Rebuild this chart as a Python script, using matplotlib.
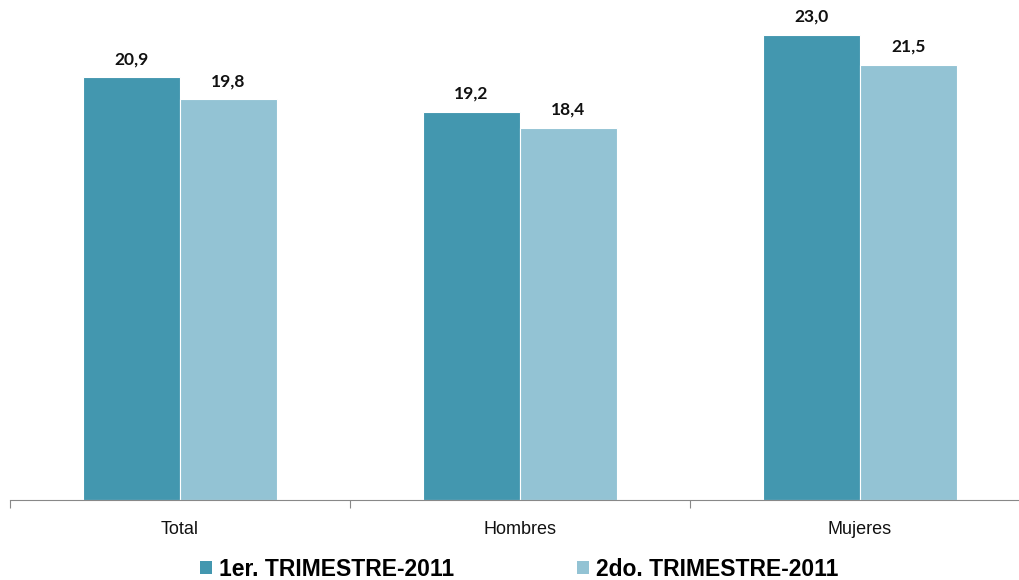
import matplotlib.pyplot as plt
import numpy as np
from matplotlib.patches import Patch

categories = ["Total", "Hombres", "Mujeres"]
series_names = ["1er. TRIMESTRE-2011", "2do. TRIMESTRE-2011"]
q1 = [20.9, 19.2, 23.0]
q2 = [19.8, 18.4, 21.5]
colors = ["#4397AF", "#93C3D4"]

fig = plt.figure(figsize=(10.2, 5.8), dpi=100)
W, H = 1020, 580
ax = fig.add_axes([10 / W, 80 / H, 1020 / W, 500 / H])
x = np.arange(len(categories))
bw = 0.285
b1 = ax.bar(x - bw / 2, q1, bw, color=colors[0], edgecolor="white", linewidth=0.8)
b2 = ax.bar(x + bw / 2, q2, bw, color=colors[1], edgecolor="white", linewidth=0.8)
for bars, vals in ((b1, q1), (b2, q2)):
    for r, v in zip(bars, vals):
        ax.text(r.get_x() + r.get_width() / 2, v + 0.5, f"{v:.1f}".replace(".", ","),
                ha="center", va="bottom", fontsize=12.5, fontweight="bold",
                family="Lato", color="#111111")

ax.set_xlim(-0.5, 2.5)
ax.set_ylim(0, 500 / 20.23)
for s in ("top", "right", "left"):
    ax.spines[s].set_visible(False)
ax.spines["bottom"].set_color("#888888")
ax.set_yticks([])
ax.set_xticks([-0.5, 0.5, 1.5, 2.5])
ax.set_xticklabels([])
ax.tick_params(axis="x", length=6, color="#888888", direction="out")
for xi, c in zip(x, categories):
    ax.text(xi, -1.48, c, ha="center", va="center", fontsize=13, family="Liberation Sans",
            color="#111111")

handles = [Patch(facecolor=colors[0]), Patch(facecolor=colors[1])]
leg = fig.legend(handles, series_names, loc="center", bbox_to_anchor=(0.509, 0.018),
                 ncol=2, frameon=False, handlelength=0.5, handleheight=0.5,
                 handletextpad=0.3, columnspacing=5.4,
                 prop={"family": "Liberation Sans", "weight": "bold", "size": 16.5})
fig.savefig("out.png", dpi=100)
